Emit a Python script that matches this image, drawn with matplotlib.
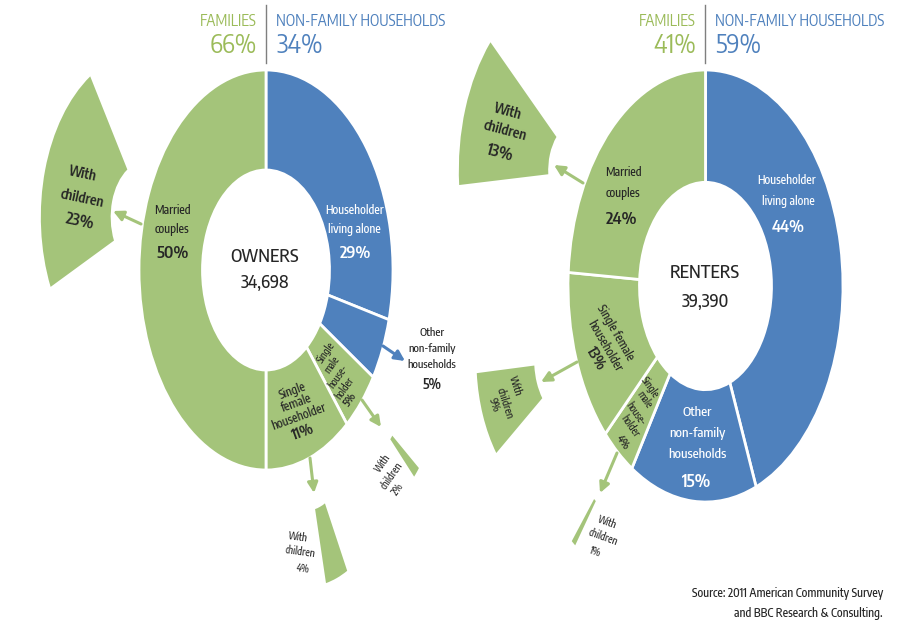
import matplotlib
matplotlib.use('Agg')
import matplotlib.pyplot as plt
from matplotlib.patches import Wedge

plt.rcParams['font.family'] = ['Encode Sans Condensed', 'Archivo Narrow', 'DejaVu Sans']

W, H = 909, 626
GREEN = '#a4c47a'
BLUE = '#4f81bd'
HEAD_GREEN = '#9bbb59'
DARK = '#262626'

# slices clockwise from 12 o'clock
slice_names = ['Householder living alone', 'Other non-family households',
               'Single male householder', 'Single female householder', 'Married couples']
slice_cols = [BLUE, BLUE, GREEN, GREEN, GREEN]

own_vals = [29, 5, 5, 11, 50]
own_kids = [23, 2, 4]          # with children: married, single male, single female
own_total = '34,698'
own_fam, own_nonfam = 66, 34

rent_vals = [44, 15, 4, 13, 24]
rent_kids = [13, 1, 9]
rent_total = '39,390'
rent_fam, rent_nonfam = 41, 59

fig = plt.figure(figsize=(W / 100, H / 100), dpi=100)


def donut(x0, x1, c, r, vals, hole, kids, kid_geo):
    # circle drawn in its own axes, stretched to the ellipse of the picture
    ax = fig.add_axes([x0 / W, 0, (x1 - x0) / W, 1])
    ax.pie(vals, colors=slice_cols, startangle=90, counterclock=False, radius=1,
           wedgeprops=dict(width=hole, edgecolor='white', linewidth=2))
    ax.set_aspect('auto')
    ax.set_xlim((x0 - c[0]) / r[0], (x1 - c[0]) / r[0])
    ax.set_ylim((c[1] - H) / r[1], c[1] / r[1])
    ax.axis('off')
    # "with children" pieces pulled out of their slice
    for pct, (cu, cv, r_in, r_out, mid) in zip(kids, kid_geo):
        half = pct * 1.8
        ax.add_patch(Wedge((cu, cv), r_out, mid - half, mid + half,
                           width=r_out - r_in, facecolor=GREEN, edgecolor='none',
                           clip_on=False))
    return ax


donut(0, 455, (266, 270), (127, 200), own_vals, 0.5, own_kids,
      [(-0.943, 0.265, 0.28, 0.83, 163.5),
       (0.844, -0.712, 0.19, 0.455, -41.3),
       (0.312, -0.874, 0.33, 0.71, -69.75)])
donut(455, W, (705.5, 286), (137.5, 216), rent_vals, 0.52, rent_kids,
      [(-0.914, 0.535, 0.23, 0.88, 161),
       (-0.65, -0.794, 0.25, 0.504, 232),
       (-0.956, -0.344, 0.29, 0.71, 201)])

# overlay in pixel coordinates for labels and arrows
ov = fig.add_axes([0, 0, 1, 1])
ov.set_xlim(0, W)
ov.set_ylim(H, 0)
ov.axis('off')


def t(x, y, s, size=8.5, color=DARK, rot=0, weight='medium', ha='center'):
    ov.text(x, y, s, fontsize=size, color=color, rotation=rot, weight=weight,
            ha=ha, va='center', rotation_mode='anchor')


def stack(points, words, size, rot, pct_size=None, color=DARK):
    for (x, y), s in zip(points, words):
        if s.endswith('%') and pct_size:
            t(x, y, s, pct_size, color, rot, weight='semibold')
        else:
            t(x, y, s, size, color, rot)


def arrow(x0, y0, x1, y1, color=GREEN):
    ov.annotate('', xy=(x1, y1), xytext=(x0, y0),
                arrowprops=dict(arrowstyle='-|>,head_length=0.6,head_width=0.3',
                                color=color, lw=2.2, shrinkA=0, shrinkB=0))


# headers
for cx, fam, nonfam in [(266, own_fam, own_nonfam), (705, rent_fam, rent_nonfam)]:
    ov.plot([cx, cx], [5, 63], color='#7f7f7f', lw=1)
    t(cx - 9, 21, 'FAMILIES', 11, HEAD_GREEN, weight='normal', ha='right')
    t(cx - 9, 46, f'{fam}%', 18.5, HEAD_GREEN, weight='normal', ha='right')
    t(cx + 10, 21, 'NON-FAMILY HOUSEHOLDS', 11, BLUE, weight='normal', ha='left')
    t(cx + 10, 46, f'{nonfam}%', 18.5, BLUE, weight='normal', ha='left')

# owners
t(265, 257, 'OWNERS', 13)
t(265, 283, own_total, 12.5)
stack([(172, 210), (172, 230), (173, 253)], ['Married', 'couples', f'{own_vals[4]}%'], 8.5, 0, 12)
stack([(355, 210), (354, 230), (355, 253)], ['Householder', 'living alone', f'{own_vals[0]}%'],
      8.5, 0, 12, 'white')
stack([(432, 332), (432, 348), (432, 364), (432, 385)],
      ['Other', 'non-family', 'households', f'{own_vals[1]}%'], 8, 0, 10)
stack([(293, 391), (297, 403), (299, 417), (303, 432)],
      ['Single', 'female', 'householder', f'{own_vals[3]}%'], 8.5, 20, 10.5)
stack([(326, 352), (332, 364), (338, 376), (344, 388), (350, 399)],
      ['Single', 'male', 'house-', 'holder', f'{own_vals[2]}%'], 7, 55, 7.5)
for (x, y), s, sz in zip([(83, 174), (82, 199), (80, 222)],
                         ['With', 'children', f'{own_kids[0]}%'], [10, 10, 11.5]):
    t(x, y, s, sz, rot=-12, weight='semibold')
stack([(383, 463), (391, 476), (398, 489)], ['With', 'children', f'{own_kids[1]}%'], 7, 55)
stack([(298, 537), (300, 552), (303, 568)], ['With', 'children', f'{own_kids[2]}%'], 7, -8)
arrow(141, 224, 113, 211)
arrow(362, 400, 381, 427)
arrow(310, 458, 314, 493)
arrow(383, 346, 405, 361, BLUE)

# renters
t(705, 273, 'RENTERS', 13)
t(705, 302, rent_total, 12.5)
stack([(623, 172), (623, 193), (622, 220)], ['Married', 'couples', f'{rent_vals[4]}%'], 8.5, 0, 12)
stack([(787, 180), (788, 201), (788, 228)], ['Householder', 'living alone', f'{rent_vals[0]}%'],
      8.5, 0, 12, 'white')
stack([(697, 413), (697, 434), (697, 455), (697, 482)],
      ['Other', 'non-family', 'households', f'{rent_vals[1]}%'], 9.5, 0, 12.5, 'white')
stack([(615, 333), (605, 346), (595, 359)],
      ['Single female', 'householder', f'{rent_vals[3]}%'], 8.5, -60, 10.5)
stack([(650, 387), (645, 400), (636, 414), (630, 426), (623, 442)],
      ['Single', 'male', 'house-', 'holder', f'{rent_vals[2]}%'], 7, -55, 7.5)
for (x, y), s, sz in zip([(508, 112), (505, 131), (500, 153)],
                         ['With', 'children', f'{rent_kids[0]}%'], [10, 10, 11.5]):
    t(x, y, s, sz, rot=-15, weight='semibold')
stack([(515, 386), (505, 403), (494, 405)], ['With', 'children', f'{rent_kids[2]}%'], 7.5, -72)
stack([(607, 522), (603, 537), (595, 552)], ['With', 'children', f'{rent_kids[1]}%'], 7, -20)
arrow(583, 183, 554, 165)
arrow(577, 362, 541, 382)
arrow(617, 453, 600, 493)

t(883, 593, 'Source: 2011 American Community Survey', 8.5, ha='right')
t(883, 613, 'and BBC Research & Consulting.', 8.5, ha='right')

fig.savefig('out.png', dpi=100, facecolor='white')
